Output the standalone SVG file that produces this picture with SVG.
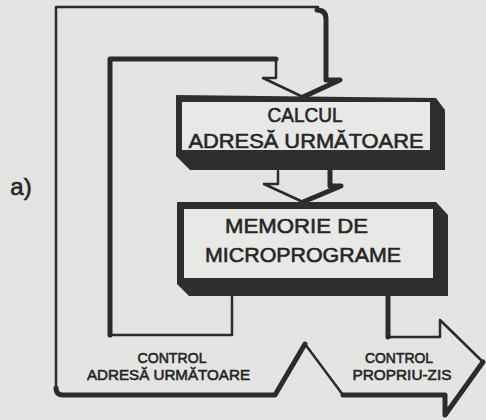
<svg xmlns="http://www.w3.org/2000/svg" width="486" height="420" viewBox="0 0 486 420">
<style>
  .bg { fill: #e4e4e2; }
  .thin { fill: none; stroke: #2b2b2b; stroke-width: 2.5; stroke-linejoin: round; stroke-linecap: round; }
  .thick { fill: none; stroke: #2b2b2b; stroke-width: 5; stroke-linejoin: round; stroke-linecap: round; }
  .shadow { fill: #2e2e2e; }
  .face { fill: #e8e8e6; }
  .lbl { font-family: "Liberation Sans", Arial, sans-serif; fill: #262626; stroke: #262626; stroke-width: 0.6; text-anchor: middle; }
</style>
<rect class="bg" x="0" y="0" width="486" height="420"/>

<g id="connectors">
  <path class="thin" d="M56,392 V7 H318"/>
  <path class="thick" d="M317,10 Q326,10 326,19 V80 H340 L303,97"/>
  <path class="thin" d="M276,60 V78 H263 L303,97"/>
  <path class="thick" d="M110,335 V59 H276"/>
  <path class="thin" d="M110,335 H232 V297"/>
  <path class="thick" d="M56,388 Q56,395 63,395 H275 L305,344"/>
  <path class="thin" d="M305,344 L343,395"/>
  <path class="thick" d="M343,395 H445 V415 L483,362"/>
  <path class="thick" d="M388,297 V337"/>
  <path class="thin" d="M388,337 H440 V320 L483,362"/>
  <path class="thin" d="M278,171 V184 H264 L303,202"/>
  <path class="thick" d="M330,171 V186 H341 L303,202"/>
</g>

<g id="calcul">
  <polygon class="shadow" points="176,95 436,98 445,110 445,170 190,170 176,156"/>
  <rect class="face" x="182" y="102" width="248" height="48"/>
  <text class="lbl" x="305" y="122" font-size="20" textLength="75" lengthAdjust="spacingAndGlyphs">CALCUL</text>
  <text class="lbl" x="306" y="148" font-size="21" textLength="235" lengthAdjust="spacingAndGlyphs">ADRESĂ URMĂTOARE</text>
</g>

<g id="memorie">
  <polygon class="shadow" points="177,202 436,202 448,215 448,296 189,296 177,284"/>
  <rect class="face" x="184" y="209" width="249" height="69"/>
  <text class="lbl" x="296.5" y="233" font-size="21" textLength="143" lengthAdjust="spacingAndGlyphs">MEMORIE  DE</text>
  <text class="lbl" x="303" y="262" font-size="21" textLength="196" lengthAdjust="spacingAndGlyphs">MICROPROGRAME</text>
</g>

<g id="label-a">
  <text class="lbl" x="21" y="195" font-size="24" style="text-anchor:middle">a)</text>
</g>

<g id="label-control-adresa">
  <text class="lbl" x="172" y="363" font-size="15" textLength="69" lengthAdjust="spacingAndGlyphs">CONTROL</text>
  <text class="lbl" x="168.5" y="380" font-size="15" textLength="163" lengthAdjust="spacingAndGlyphs">ADRESĂ URMĂTOARE</text>
</g>

<g id="label-control-propriu">
  <text class="lbl" x="399" y="363" font-size="15" textLength="68" lengthAdjust="spacingAndGlyphs">CONTROL</text>
  <text class="lbl" x="402" y="380" font-size="15" textLength="99" lengthAdjust="spacingAndGlyphs">PROPRIU-ZIS</text>
</g>
</svg>
